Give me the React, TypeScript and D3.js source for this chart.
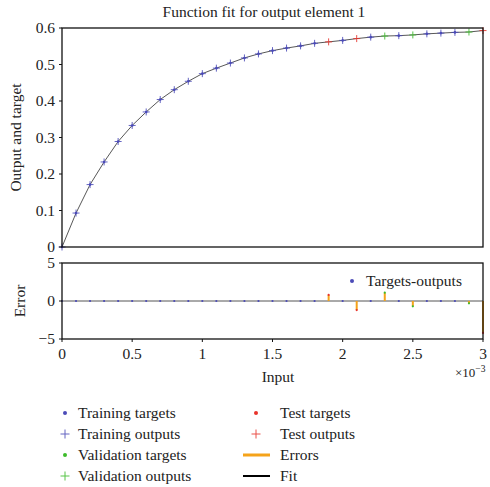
import React from "react";
import * as d3 from "d3";

// inputs (in units of 1e-3)
const inputs = [
  0, 0.1, 0.2, 0.3, 0.4, 0.5, 0.6, 0.7, 0.8, 0.9, 1.0, 1.1, 1.2, 1.3, 1.4, 1.5,
  1.6, 1.7, 1.8, 1.9, 2.0, 2.1, 2.2, 2.3, 2.4, 2.5, 2.6, 2.7, 2.8, 2.9, 3.0,
];
const outputs = [
  0, 0.093, 0.171, 0.233, 0.289, 0.333, 0.37, 0.404, 0.431, 0.454, 0.475,
  0.49, 0.504, 0.518, 0.529, 0.538, 0.545, 0.551, 0.558, 0.562, 0.566, 0.571,
  0.575, 0.578, 0.579, 0.581, 0.584, 0.586, 0.588, 0.589, 0.593,
];
// targets - outputs
const errors = [
  0, 0, 0, 0, 0, 0, 0, 0, 0, 0, 0, 0, 0, 0, 0, 0, 0, 0, 0, 0.8, 0, -1.2, 0,
  1.1, 0, -0.7, 0, 0, 0, -0.3, -4.2,
];
// T = training, V = validation, S = test
const sets = [
  "T", "T", "T", "T", "T", "T", "T", "T", "T", "T", "T", "T", "T", "T", "T",
  "T", "T", "T", "T", "S", "T", "S", "T", "V", "T", "V", "T", "T", "T", "V",
  "S",
];
const xTicks = [0, 0.5, 1, 1.5, 2, 2.5, 3];
const yTicks = [0, 0.1, 0.2, 0.3, 0.4, 0.5, 0.6];
const errTicks = [-5, 0, 5];

const colors: Record<string, string> = {
  T: "#4b4bb8",
  V: "#3dbb2a",
  S: "#e8322b",
};
const orange = "#f5a31a";
const font = "'Liberation Serif', 'Times New Roman', serif";
const fs = 15.5;

const legendLeft = [
  { label: "Training targets", set: "T", kind: "dot" },
  { label: "Training outputs", set: "T", kind: "plus" },
  { label: "Validation targets", set: "V", kind: "dot" },
  { label: "Validation outputs", set: "V", kind: "plus" },
];
const legendRight = [
  { label: "Test targets", set: "S", kind: "dot" },
  { label: "Test outputs", set: "S", kind: "plus" },
  { label: "Errors", set: "E", kind: "line" },
  { label: "Fit", set: "F", kind: "line" },
];

function Plus({ x, y, c, s = 3.5 }: { x: number; y: number; c: string; s?: number }) {
  return (
    <g stroke={c} strokeWidth={1} opacity={0.85}>
      <line x1={x - s} x2={x + s} y1={y} y2={y} />
      <line x1={x} x2={x} y1={y - s} y2={y + s} />
    </g>
  );
}

function LegendItem({ item, x, y, gap }: { item: any; x: number; y: number; gap: number }) {
  let mark: React.ReactNode = null;
  if (item.kind === "dot")
    mark = <circle cx={x} cy={y} r={2} fill={colors[item.set]} />;
  else if (item.kind === "plus") mark = <Plus x={x} y={y} c={colors[item.set]} s={4.5} />;
  else
    mark = (
      <line
        x1={x - 13}
        x2={x + 14}
        y1={y}
        y2={y}
        stroke={item.set === "E" ? orange : "#000"}
        strokeWidth={item.set === "E" ? 3 : 2}
      />
    );
  return (
    <g>
      {mark}
      <text x={x + gap} y={y + 5} fontSize={fs} fill="#222" fontFamily={font}>
        {item.label}
      </text>
    </g>
  );
}

export default function App() {
  const W = 490;
  const H = 487;
  const x = d3.scaleLinear().domain([0, 3]).range([62, 483]);
  const y = d3.scaleLinear().domain([0, 0.6]).range([247, 28]);
  const ye = d3.scaleLinear().domain([-5, 5]).range([339, 263]);

  const line = d3
    .line<number>()
    .x((d, i) => x(inputs[i]))
    .y((d) => y(d));

  return (
    <svg
      width={W}
      height={H}
      style={{ position: "absolute", left: 0, top: 0, background: "#fff" }}
      fontFamily={font}
    >
      {/* title */}
      <text x={264} y={17} textAnchor="middle" fontSize={fs} fill="#222">
        Function fit for output element 1
      </text>

      {/* top plot */}
      <path d={line(outputs) || ""} fill="none" stroke="#444" strokeWidth={0.9} />
      {outputs.map((o, i) =>
        errors[i] === 0 ? (
          <circle
            key={"t" + i}
            cx={x(inputs[i])}
            cy={y(o + errors[i])}
            r={1.3}
            fill={colors[sets[i]]}
          />
        ) : null
      )}
      {outputs.map((o, i) => (
        <Plus key={"o" + i} x={x(inputs[i])} y={y(o)} c={colors[sets[i]]} />
      ))}
      <rect
        x={x(0)}
        y={y(0.6)}
        width={x(3) - x(0)}
        height={y(0) - y(0.6)}
        fill="none"
        stroke="#111"
        strokeWidth={1.3}
      />
      {yTicks.map((t) => (
        <g key={"yt" + t}>
          <line x1={x(0) - 3} x2={x(0)} y1={y(t)} y2={y(t)} stroke="#111" />
          <text x={x(0) - 7} y={y(t) + 5} textAnchor="end" fontSize={fs} fill="#222">
            {t === 0 ? "0" : d3.format(".1f")(t)}
          </text>
        </g>
      ))}
      <text
        transform={`translate(21,${(y(0) + y(0.6)) / 2}) rotate(-90)`}
        textAnchor="middle"
        fontSize={fs}
        fill="#222"
      >
        Output and target
      </text>

      {/* error plot */}
      <line x1={x(0)} x2={x(3)} y1={ye(0)} y2={ye(0)} stroke="#555" strokeWidth={1} />
      {errors.map((e, i) =>
        e !== 0 ? (
          <line
            key={"eb" + i}
            x1={x(inputs[i])}
            x2={x(inputs[i])}
            y1={ye(0)}
            y2={ye(e)}
            stroke={orange}
            strokeWidth={2}
          />
        ) : null
      )}
      {errors.map((e, i) => (
        <circle
          key={"ed" + i}
          cx={x(inputs[i])}
          cy={ye(e)}
          r={1.1}
          fill={colors[sets[i]]}
        />
      ))}
      <rect
        x={x(0)}
        y={ye(5)}
        width={x(3) - x(0)}
        height={ye(-5) - ye(5)}
        fill="none"
        stroke="#111"
        strokeWidth={1.3}
      />
      {errTicks.map((t) => (
        <g key={"et" + t}>
          <line x1={x(0) - 3} x2={x(0)} y1={ye(t)} y2={ye(t)} stroke="#111" />
          <text x={x(0) - 7} y={ye(t) + 5} textAnchor="end" fontSize={fs} fill="#222">
            {t < 0 ? "\u2212" + Math.abs(t) : t}
          </text>
        </g>
      ))}
      {xTicks.map((t) => (
        <g key={"xt" + t}>
          <line x1={x(t)} x2={x(t)} y1={ye(-5)} y2={ye(-5) + 3} stroke="#111" />
          <text x={x(t)} y={359} textAnchor="middle" fontSize={fs} fill="#222">
            {t}
          </text>
        </g>
      ))}
      <text
        transform={`translate(25,${ye(0)}) rotate(-90)`}
        textAnchor="middle"
        fontSize={fs}
        fill="#222"
      >
        Error
      </text>
      <text x={278} y={382} textAnchor="middle" fontSize={fs} fill="#222">
        Input
      </text>
      <text x={455} y={377} fontSize={13} fill="#222">
        ×10
        <tspan dy={-5} fontSize={9.5}>
          −3
        </tspan>
      </text>

      {/* error legend */}
      <circle cx={352} cy={281} r={2} fill={colors.T} />
      <text x={366} y={286} fontSize={fs} fill="#222">
        Targets-outputs
      </text>

      {/* bottom legend */}
      {legendLeft.map((it, i) => (
        <LegendItem key={it.label} item={it} x={65} y={413 + i * 21} gap={13} />
      ))}
      {legendRight.map((it, i) => (
        <LegendItem key={it.label} item={it} x={256} y={413 + i * 21} gap={24} />
      ))}
    </svg>
  );
}
